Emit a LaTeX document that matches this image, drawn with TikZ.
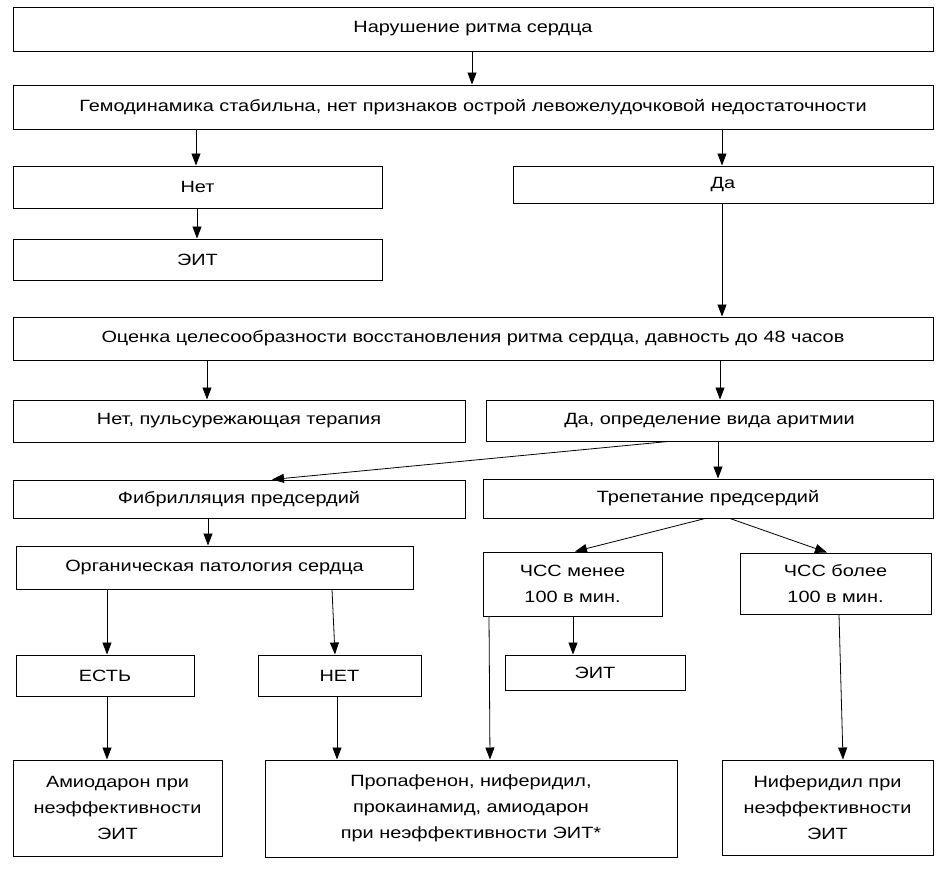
\documentclass[tikz,border=0pt]{standalone}
\usepackage{fontspec}
\setmainfont[FakeStretch=1.22]{Liberation Sans}
\usetikzlibrary{arrows.meta}
\tikzset{
  box/.style={draw=black, line width=1pt, align=center, inner sep=0pt,
    font=\fontsize{16.3}{26}\selectfont},
  arr/.style={draw=black, line width=0.8pt, -{Triangle[length=12pt,width=9pt]}}
}
\begin{document}
\begin{tikzpicture}[x=1pt,y=-1pt]
\useasboundingbox (0,0) rectangle (945,871);
\fill[white] (0,0) rectangle (945,871);
\node[box, minimum width=920, minimum height=44] (n1) at (473,29) {Нарушение ритма сердца};
\node[box, minimum width=920, minimum height=44] (n2) at (473,107) {Гемодинамика стабильна, нет признаков острой левожелудочковой недостаточности};
\node[box, minimum width=369, minimum height=42] (n3) at (197.5,187) {Нет};
\node[box, minimum width=420, minimum height=37] (n4) at (723,184.5) {Да};
\node[box, minimum width=369, minimum height=41] (n5) at (197.5,259.5) {ЭИТ};
\node[box, minimum width=920, minimum height=43] (n6) at (473,338.5) {Оценка целесообразности восстановления ритма сердца, давность до 48 часов};
\node[box, minimum width=452, minimum height=42] (n7) at (239,421) {Нет, пульсурежающая терапия};
\node[box, minimum width=447, minimum height=41] (n8) at (709.5,420.5) {Да, определение вида аритмии};
\node[box, minimum width=452, minimum height=38] (n9) at (239,499) {Фибрилляция предсердий};
\node[box, minimum width=450, minimum height=39] (n10) at (708,498.5) {Трепетание предсердий};
\node[box, minimum width=397, minimum height=43] (n11) at (214.5,567.5) {Органическая патология сердца};
\node[box, minimum width=179, minimum height=64] (n12) at (572.5,584) {ЧСС менее\\100 в мин.};
\node[box, minimum width=191, minimum height=61] (n13) at (835.5,583.5) {ЧСС более\\100 в мин.};
\node[box, minimum width=178, minimum height=41] (n14) at (105,675.5) {ЕСТЬ};
\node[box, minimum width=163, minimum height=41] (n15) at (339.5,675.5) {НЕТ};
\node[box, minimum width=180, minimum height=35] (n16) at (595,672.5) {ЭИТ};
\node[box, minimum width=209, minimum height=96] (n17) at (117.5,808) {Амиодарон при\\неэффективности\\ЭИТ};
\node[box, minimum width=412, minimum height=97] (n18) at (471,808.5) {Пропафенон, ниферидил,\\прокаинамид, амиодарон\\при неэффективности ЭИТ*};
\node[box, minimum width=211, minimum height=95] (n19) at (827.5,807.5) {Ниферидил при\\неэффективности\\ЭИТ};
\draw[arr] (n1.south -| 472,0) -- (n2.north -| 472,0);
\draw[arr] (n2.south -| 196,0) -- (n3.north -| 196,0);
\draw[arr] (n2.south -| 722,0) -- (n4.north -| 722,0);
\draw[arr] (n3.south -| 197,0) -- (n5.north -| 197,0);
\draw[arr] (n4.south -| 722,0) -- (n6.north -| 722,0);
\draw[arr] (n6.south -| 207,0) -- (n7.north -| 207,0);
\draw[arr] (n6.south -| 720,0) -- (n8.north -| 720,0);
\draw[arr] (n8.south -| 668,0) -- (n9.north -| 272,0);
\draw[arr] (n8.south -| 718,0) -- (n10.north -| 718,0);
\draw[arr] (n9.south -| 208,0) -- (n11.north -| 208,0);
\draw[arr] (n10.south -| 705,0) -- (n12.north -| 575,0);
\draw[arr] (n10.south -| 730,0) -- (n13.north -| 827,0);
\draw[arr] (n11.south -| 107,0) -- (n14.north -| 107,0);
\draw[arr] (n11.south -| 332,0) -- (n15.north -| 335,0);
\draw[arr] (n12.south -| 573,0) -- (n16.north -| 573,0);
\draw[arr] (n12.south -| 489,0) -- (n18.north -| 490,0);
\draw[arr] (n13.south -| 839,0) -- (n19.north -| 843,0);
\draw[arr] (n14.south -| 107,0) -- (n17.north -| 107,0);
\draw[arr] (n15.south -| 337,0) -- (n18.north -| 337,0);
\end{tikzpicture}
\end{document}
